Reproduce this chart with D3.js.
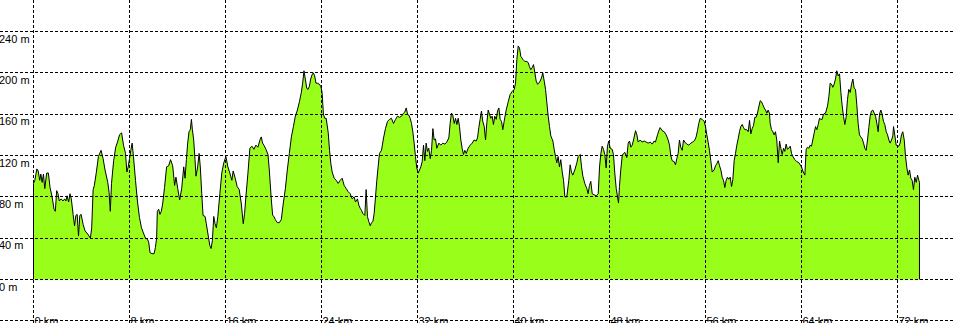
<!DOCTYPE html>
<html>
<head>
<meta charset="utf-8">
<script src="https://cdn.jsdelivr.net/npm/d3@7"></script>
<style>
  body { margin: 0; background: #fff; overflow: hidden; }
  text { font-family: "Liberation Sans", Arial, sans-serif; font-size: 11px; fill: #000; }
</style>
</head>
<body>
<div id="chart"></div>
<script>
// tick values (km along the track, metres of elevation)
const xTicks = [0, 8, 16, 24, 32, 40, 48, 56, 64, 72, 80];
const yTicks = [-40, 0, 40, 80, 120, 160, 200, 240, 280];
const yLabels = [0, 40, 80, 120, 160, 200, 240];

// elevation profile: [distance km, elevation m]
const profile = [
  [0, 93], [0.11, 96], [0.28, 107], [0.39, 105], [0.52, 96], [0.61, 102], [0.72, 94], [0.83, 102], [0.94, 88],
  [1.1, 103], [1.24, 103], [1.38, 89], [1.55, 80], [1.71, 68], [1.82, 66], [1.93, 86], [2.04, 83], [2.15, 76],
  [2.3, 78], [2.46, 76], [2.6, 78], [2.7, 76], [2.8, 81], [2.93, 75], [3.04, 83], [3.15, 78], [3.3, 63],
  [3.42, 52], [3.53, 62], [3.64, 63], [3.75, 42], [3.86, 62], [3.97, 63], [4.14, 53], [4.3, 47], [4.52, 44],
  [4.74, 40], [4.85, 50], [4.97, 87], [5.07, 91], [5.24, 104], [5.41, 119], [5.63, 125], [5.8, 117], [5.96, 106],
  [6.19, 94], [6.3, 84], [6.4, 66], [6.5, 93], [6.68, 115], [6.85, 128], [7.0, 133], [7.17, 140], [7.34, 142],
  [7.5, 130], [7.67, 122], [7.78, 104], [7.89, 109], [8.0, 117], [8.11, 125], [8.22, 132], [8.33, 119], [8.5, 96],
  [8.66, 76], [8.83, 60], [9.0, 50], [9.16, 45], [9.33, 40], [9.5, 39], [9.6, 36], [9.71, 26], [9.88, 25],
  [10.05, 25], [10.16, 31], [10.26, 40], [10.32, 66], [10.43, 68], [10.54, 63], [10.65, 66], [10.76, 73],
  [10.92, 89], [11.09, 109], [11.26, 110], [11.42, 116], [11.6, 110], [11.76, 91], [11.87, 99],
  [12.02, 88], [12.18, 77], [12.35, 88], [12.52, 109], [12.63, 98], [12.74, 116], [12.85, 132], [12.96, 143],
  [13.07, 145], [13.16, 155], [13.24, 145], [13.35, 135], [13.46, 116], [13.54, 100], [13.68, 109], [13.8, 122],
  [13.9, 109], [14.02, 83], [14.13, 62], [14.3, 61], [14.4, 54], [14.58, 41], [14.69, 33], [14.8, 30], [14.91, 38],
  [15.02, 61], [15.13, 54], [15.24, 50], [15.36, 61], [15.53, 83], [15.69, 103], [15.86, 113], [16.03, 119],
  [16.2, 109], [16.36, 103], [16.53, 96], [16.64, 105], [16.81, 98], [16.97, 90], [17.14, 87], [17.31, 74],
  [17.48, 54], [17.59, 64], [17.7, 80], [17.87, 103], [18.03, 127], [18.2, 129], [18.37, 126], [18.53, 130],
  [18.7, 128], [18.87, 135], [18.98, 138], [19.09, 132], [19.2, 130], [19.37, 126], [19.54, 121], [19.65, 106],
  [19.82, 77], [19.93, 62], [20.04, 61], [20.15, 58], [20.32, 55], [20.48, 55], [20.65, 58], [20.82, 74],
  [20.99, 88], [21.15, 106], [21.32, 122], [21.49, 138], [21.66, 148], [21.82, 158], [21.99, 164], [22.16, 172],
  [22.32, 181], [22.43, 190], [22.54, 202], [22.65, 194], [22.77, 185], [22.88, 184], [22.99, 187], [23.1, 194],
  [23.21, 198], [23.32, 200], [23.43, 197], [23.54, 190], [23.65, 190], [23.82, 189], [23.94, 187], [24.05, 181],
  [24.16, 160], [24.27, 156],
  [24.39, 156], [24.56, 142], [24.67, 125], [24.78, 112], [24.89, 104], [25.06, 98], [25.22, 96], [25.39, 93],
  [25.56, 96], [25.72, 98], [25.89, 91], [26.06, 88], [26.22, 85], [26.39, 83], [26.56, 78], [26.72, 80],
  [26.83, 75], [27.0, 78], [27.11, 72], [27.22, 69], [27.33, 67], [27.44, 64], [27.61, 62], [27.72, 87],
  [27.83, 61], [27.94, 56], [28.06, 52], [28.17, 55], [28.28, 56], [28.39, 64], [28.5, 80], [28.61, 96],
  [28.72, 109], [28.83, 122], [29.0, 125], [29.17, 137], [29.33, 146], [29.5, 153], [29.67, 155], [29.83, 156],
  [30.0, 151], [30.17, 155], [30.33, 158], [30.5, 157], [30.67, 158], [30.83, 161], [30.94, 162], [31.06, 166],
  [31.17, 160], [31.28, 159], [31.39, 156], [31.5, 151], [31.61, 143], [31.72, 132], [31.83, 119], [31.94, 108],
  [32.06, 103], [32.17, 106], [32.28, 109], [32.39, 114], [32.5, 130], [32.61, 115], [32.72, 132], [32.83, 124],
  [32.94, 127], [33.06, 117], [33.17, 125], [33.28, 146], [33.39, 135], [33.5, 136], [33.61, 127], [33.78, 132],
  [33.94, 130], [34.11, 132], [34.28, 131], [34.44, 133], [34.61, 137], [34.72, 151], [34.83, 161], [34.94, 159],
  [35.06, 151], [35.17, 156], [35.28, 150], [35.39, 156], [35.5, 148], [35.61, 135], [35.72, 127], [35.83, 121],
  [35.94, 125], [36.06, 122], [36.22, 127], [36.39, 130], [36.56, 132],
  [36.72, 135], [36.89, 134], [37.0, 137], [37.11, 147], [37.22, 155], [37.33, 163], [37.44, 153], [37.56, 148],
  [37.67, 135], [37.78, 152], [37.89, 164], [38.0, 160], [38.11, 156], [38.22, 158], [38.33, 150], [38.44, 158],
  [38.56, 155], [38.67, 163], [38.78, 166], [38.89, 155], [39.0, 153], [39.11, 145], [39.22, 153], [39.39, 164],
  [39.56, 172], [39.72, 179], [39.89, 182], [40.06, 184], [40.17, 190], [40.28, 213], [40.39, 226], [40.5, 224],
  [40.61, 216], [40.78, 213], [40.94, 211], [41.11, 211], [41.22, 210], [41.33, 206], [41.44, 203], [41.56, 205],
  [41.67, 208], [41.78, 200], [41.89, 192], [42.0, 189], [42.11, 190], [42.22, 192], [42.33, 195], [42.44, 200],
  [42.56, 192], [42.67, 184], [42.78, 171], [42.89, 158], [43.0, 148], [43.11, 139], [43.28, 134], [43.39, 126],
  [43.5, 119], [43.61, 113], [43.72, 119], [43.83, 109], [43.94, 116], [44.06, 104], [44.17, 96], [44.28, 80],
  [44.44, 80], [44.61, 96], [44.72, 111], [44.83, 104], [44.94, 101], [45.11, 106], [45.28, 113], [45.39, 119],
  [45.56, 121], [45.67, 109], [45.78, 100], [45.94, 93], [46.11, 88], [46.22, 83], [46.33, 91], [46.44, 95],
  [46.56, 83], [46.72, 82], [46.89, 81], [47.06, 83], [47.17, 109], [47.28, 122], [47.39, 129], [47.5, 126],
  [47.61, 121], [47.72, 108], [47.83, 129], [47.94, 134], [48.06, 127], [48.22, 126], [48.33, 121], [48.44, 103],
  [48.56, 88], [48.67, 80], [48.75, 74], [48.83, 90], [48.94, 106],
  [49.06, 120], [49.17, 122], [49.28, 123], [49.44, 118], [49.56, 132], [49.67, 134], [49.78, 128], [49.89, 130],
  [50.0, 135], [50.17, 144], [50.28, 140], [50.39, 133], [50.56, 135], [50.72, 133], [50.89, 134], [51.06, 133],
  [51.22, 132], [51.39, 133], [51.56, 131], [51.72, 134], [51.83, 133], [52.0, 140], [52.11, 144], [52.22, 147],
  [52.39, 144], [52.56, 143], [52.72, 140], [52.89, 135], [53.0, 130], [53.11, 120], [53.22, 115], [53.39, 114],
  [53.5, 111], [53.61, 117], [53.72, 122], [53.83, 135], [53.94, 128], [54.06, 125], [54.17, 135], [54.28, 133],
  [54.44, 131], [54.61, 130], [54.78, 132], [54.94, 133], [55.11, 135], [55.22, 138], [55.33, 144], [55.44, 151],
  [55.56, 156], [55.72, 155], [55.89, 153], [56.0, 148], [56.11, 140], [56.22, 133], [56.33, 125], [56.44, 115],
  [56.56, 104], [56.72, 106], [56.83, 110], [56.94, 112], [57.06, 115], [57.17, 110], [57.28, 106], [57.39, 99],
  [57.5, 96], [57.61, 89], [57.72, 96], [57.83, 99], [57.94, 97], [58.06, 99], [58.17, 90], [58.28, 97],
  [58.39, 115], [58.5, 122], [58.61, 130], [58.72, 136], [58.83, 143], [58.94, 148], [59.06, 150], [59.17, 147],
  [59.28, 145], [59.44, 145], [59.56, 143], [59.67, 154], [59.78, 141], [59.89, 146], [60.0, 149], [60.11, 157],
  [60.22, 157], [60.33, 161], [60.44, 167], [60.56, 173], [60.67, 172], [60.78, 169], [60.89, 166], [61.0, 164],
  [61.11, 161], [61.22, 164], [61.33, 161],
  [61.39, 151], [61.5, 145], [61.61, 143], [61.72, 140], [61.83, 143], [61.94, 135], [62.06, 113], [62.17, 134],
  [62.28, 127], [62.39, 121], [62.5, 127], [62.61, 124], [62.72, 131], [62.83, 126], [62.94, 127], [63.06, 129],
  [63.17, 122], [63.28, 119], [63.44, 116], [63.61, 114], [63.78, 113], [64.0, 109], [64.11, 105], [64.28, 101],
  [64.39, 126], [64.5, 128], [64.61, 127], [64.72, 130], [64.83, 129], [64.94, 135], [65.06, 142], [65.17, 148],
  [65.28, 145], [65.39, 150], [65.5, 156], [65.61, 155], [65.72, 155], [65.83, 160], [66.0, 161], [66.17, 168],
  [66.28, 177], [66.39, 190], [66.5, 189], [66.61, 186], [66.72, 189], [66.83, 194], [66.94, 202], [67.06, 197],
  [67.17, 199], [67.28, 181], [67.39, 168], [67.5, 158], [67.61, 150], [67.72, 157], [67.83, 174], [67.94, 184],
  [68.06, 181], [68.17, 189], [68.28, 194], [68.39, 185], [68.5, 184], [68.61, 169], [68.72, 151], [68.83, 140],
  [68.94, 138], [69.06, 136], [69.17, 132], [69.28, 127], [69.39, 125], [69.5, 135], [69.61, 147], [69.72, 158],
  [69.83, 163], [69.94, 164], [70.06, 161], [70.17, 158], [70.28, 151], [70.39, 143], [70.5, 160], [70.61, 164],
  [70.72, 160], [70.83, 153], [70.94, 150], [71.06, 143], [71.17, 140], [71.28, 135], [71.39, 132], [71.5, 135],
  [71.61, 139], [71.67, 148], [71.78, 139], [71.89, 130], [72.0, 129], [72.11, 129], [72.22, 132], [72.33, 140],
  [72.44, 143], [72.56, 135], [72.67, 119], [72.78, 108], [72.89, 101], [73.0, 106], [73.11, 98], [73.22, 96],
  [73.33, 87], [73.44, 99], [73.56, 94], [73.67, 101], [73.78, 96], [73.83, 94]
];

const width = 953, height = 323;

const svg = d3.select("#chart")
  .append("svg")
  .attr("width", width)
  .attr("height", height);

// 12 px per km, 248 px per 240 m
const x = d3.scaleLinear().domain([0, 8]).range([33.5, 129.5]);
const y = d3.scaleLinear().domain([0, 240]).range([279.5, 31.5]);

// filled profile
const area = d3.area()
  .x(d => x(d[0]))
  .y0(y(0))
  .y1(d => y(d[1]));

svg.append("path")
  .datum(profile)
  .attr("d", area)
  .attr("fill", "#99ff1a");

// outline: left edge, top, right edge
const last = profile[profile.length - 1][0];
const outline = [[0, 0], ...profile, [last, 0]];

svg.append("path")
  .datum(outline)
  .attr("d", d3.line().x(d => x(d[0])).y(d => y(d[1])))
  .attr("fill", "none")
  .attr("stroke", "#000")
  .attr("stroke-width", 1);

// dashed grid on top
svg.append("g")
  .selectAll("line")
  .data(yTicks)
  .enter()
  .append("line")
  .attr("x1", 0)
  .attr("x2", width)
  .attr("y1", d => y(d))
  .attr("y2", d => y(d))
  .attr("stroke", "#000")
  .attr("stroke-dasharray", "3,2")
  .attr("shape-rendering", "crispEdges");

svg.append("g")
  .selectAll("line")
  .data(xTicks)
  .enter()
  .append("line")
  .attr("x1", d => x(d))
  .attr("x2", d => x(d))
  .attr("y1", 0)
  .attr("y2", height)
  .attr("stroke", "#000")
  .attr("stroke-dasharray", "3,2")
  .attr("shape-rendering", "crispEdges");

// labels
svg.append("g")
  .selectAll("text")
  .data(yLabels)
  .enter()
  .append("text")
  .attr("x", -1)
  .attr("y", d => y(d) + 11)
  .text(d => `${d} m`);

svg.append("g")
  .selectAll("text")
  .data(xTicks.filter(d => d < 80))
  .enter()
  .append("text")
  .attr("x", d => x(d) + 1)
  .attr("y", 325)
  .text(d => `${d} km`);
</script>
</body>
</html>
